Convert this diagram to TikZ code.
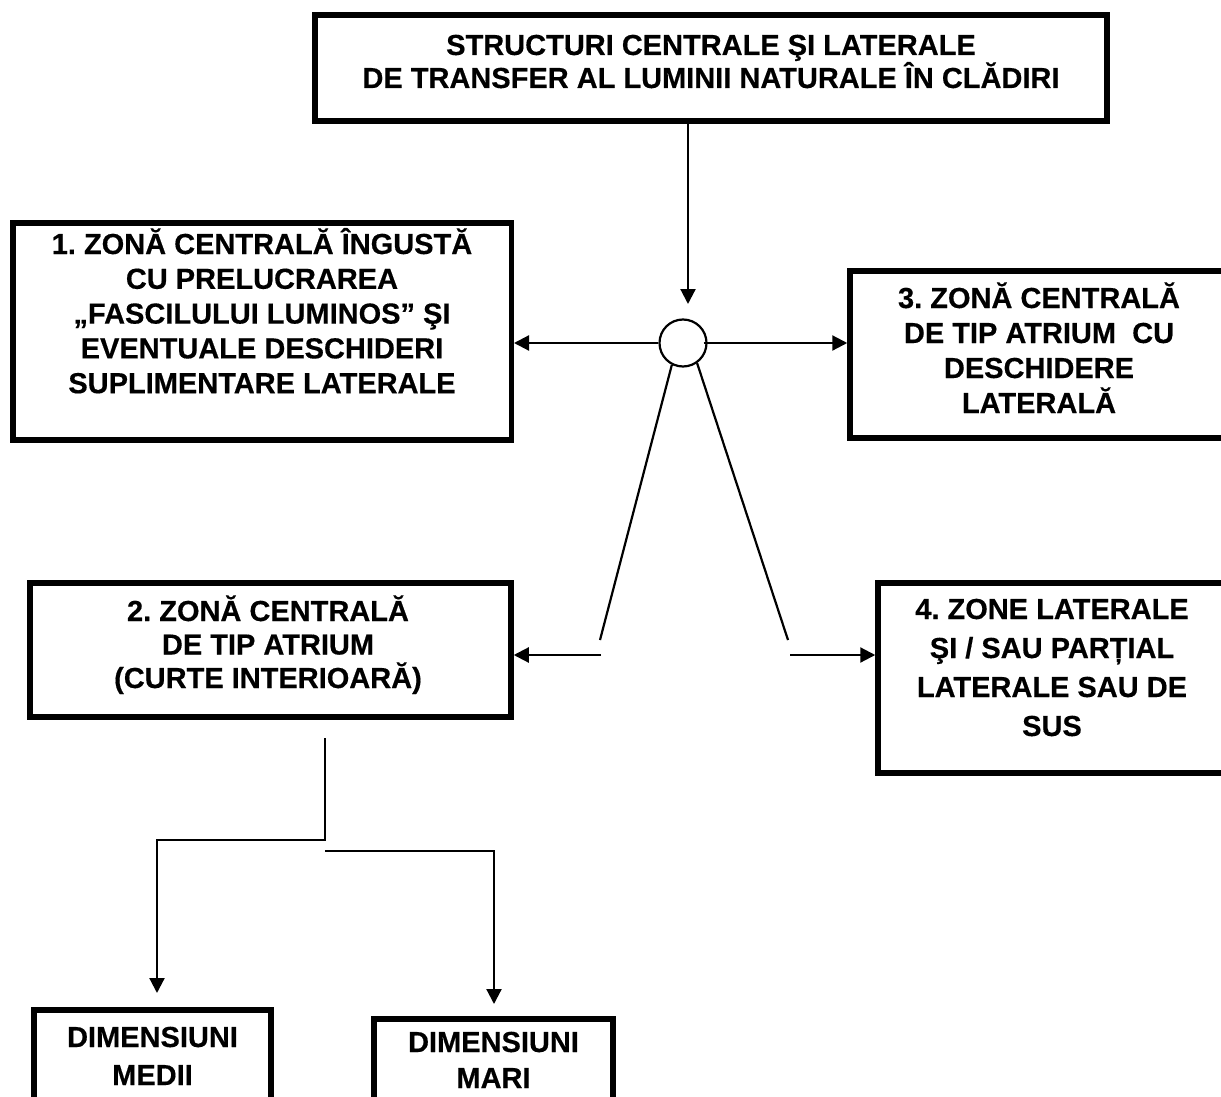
\documentclass[tikz,border=0pt]{standalone}
\usepackage{fontspec}
\setmainfont{Liberation Sans}[BoldFeatures={FakeBold=0.4}]
\usetikzlibrary{arrows.meta}
% centred lines with a fixed baseline distance; the base is the first line
\newcommand{\stackedlines}[2]{\vtop{\lineskiplimit=-100pt\lineskip=0pt\baselineskip=#1\halign{\hfil##\hfil\cr#2\crcr}}}
\frenchspacing
\begin{document}
\begin{tikzpicture}[x=1pt,y=-1pt,
  box/.style={draw, line width=5.5pt, inner sep=0pt},
  txt/.style={anchor=base, inner sep=0pt, font=\bfseries\fontsize{29}{35}\selectfont},
  conn/.style={line width=2.2pt},
  arr/.style={conn, -{Triangle[length=15pt,width=15pt]}}]
\useasboundingbox (0,0) rectangle (1221,1097);
\clip (0,0) rectangle (1221,1097);

% boxes
\node[box, minimum width=792pt, minimum height=106pt] (top) at (711,68) {};
\node[box, minimum width=498.5pt, minimum height=217pt] (b1) at (262,331.5) {};
\node[box, minimum width=378pt, minimum height=167pt] (b3) at (1039,354.5) {};
\node[box, minimum width=481pt, minimum height=134pt] (b2) at (270.5,650) {};
\node[box, minimum width=348pt, minimum height=190pt] (b4) at (1052,678) {};
\node[box, minimum width=237pt, minimum height=130pt] (b5) at (152.5,1075) {};
\node[box, minimum width=239pt, minimum height=122pt] (b6) at (493.5,1080) {};

% texts
\node[txt] (ttop) at (711,55) {\stackedlines{33pt}{STRUCTURI CENTRALE ŞI LATERALE\cr DE TRANSFER AL LUMINII NATURALE ÎN CLĂDIRI}};
\node[txt] (tb1) at (262,254) {\stackedlines{34.8pt}{1. ZONĂ CENTRALĂ ÎNGUSTĂ\cr CU PRELUCRAREA\cr „FASCILULUI LUMINOS” ŞI\cr EVENTUALE DESCHIDERI\cr SUPLIMENTARE LATERALE}};
\node[txt] (tb3) at (1039,308) {\stackedlines{35pt}{3. ZONĂ CENTRALĂ\cr DE TIP ATRIUM~ CU\cr DESCHIDERE\cr LATERALĂ}};
\node[txt] (tb2) at (268,621) {\stackedlines{33.5pt}{2. ZONĂ CENTRALĂ\cr DE TIP ATRIUM\cr (CURTE INTERIOARĂ)}};
\node[txt] (tb4) at (1052,619) {\stackedlines{39pt}{4. ZONE LATERALE\cr ŞI / SAU PARȚIAL\cr LATERALE SAU DE\cr SUS}};
\node[txt] (tb5) at (152.5,1047) {\stackedlines{38pt}{DIMENSIUNI\cr MEDII}};
\node[txt] (tb6) at (493.5,1052) {\stackedlines{36pt}{DIMENSIUNI\cr MARI}};

% hub circle
\node[draw, circle, line width=2.2pt, minimum size=47pt, inner sep=0pt] (hub) at (683,343) {};

% free ends of the connectors
\coordinate (downtip) at (688,304);
\coordinate (ldiag) at (600,640);
\coordinate (rdiag) at (788,640);
\coordinate (lh) at (601,655);
\coordinate (rh) at (790,655);
\coordinate (stem) at (325,738);
\coordinate (fork) at (325,851);
\coordinate (tip5) at (157,993);
\coordinate (tip6) at (494,1004);

% connectors
\draw[arr] (top.south -| downtip) -- (downtip);
\draw[arr] (hub.west) -- (hub.west -| b1.east);
\draw[arr] ([xshift=-4pt]hub.east) -- (hub.east -| b3.west);
\draw[conn] (hub.243) -- (ldiag);
\draw[conn] (hub.305) -- (rdiag);
\draw[arr] (lh) -- (lh -| b2.east);
\draw[arr] (rh) -- (rh -| b4.west);
\draw[arr] (stem) -- (325,840) -| (tip5);
\draw[arr] (fork) -| (tip6);
\end{tikzpicture}
\end{document}
